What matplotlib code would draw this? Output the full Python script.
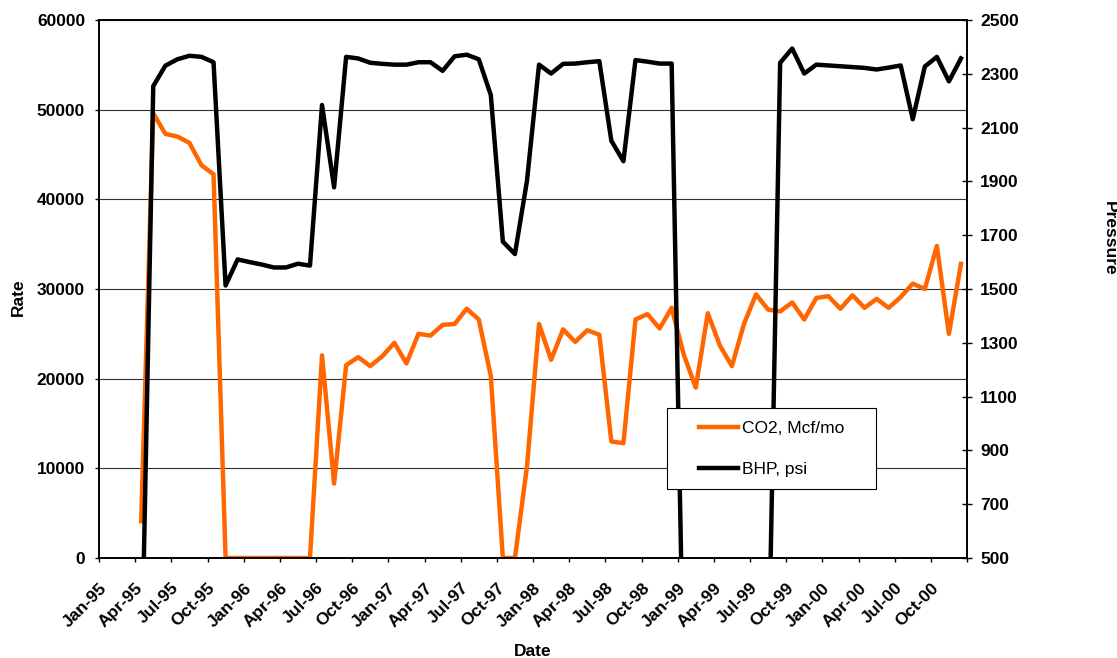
import numpy as np
import pandas as pd
import matplotlib
matplotlib.use('Agg')
import matplotlib.pyplot as plt
from matplotlib.legend_handler import HandlerLine2D

plt.rcParams['font.family'] = ['Liberation Sans', 'DejaVu Sans']

# monthly data, Apr-95 .. Dec-00
months = pd.date_range('1995-04-01', '2000-12-01', freq='MS')

co2 = [4100, 49600, 47300, 47000, 46300, 43800, 42800, 0, 0,
       0, 0, 0, 0, 0, 0, 22600, 8300, 21500, 22400, 21400, 22500,
       24000, 21700, 25000, 24800, 26000, 26100, 27800, 26600, 20300, 0, 0, 10200,
       26100, 22100, 25500, 24100, 25400, 24900, 13000, 12800, 26600, 27200, 25600, 27900,
       22700, 19000, 27300, 23700, 21400, 26100, 29400, 27700, 27500, 28500, 26600, 29000,
       29200, 27800, 29300, 27900, 28900, 27900, 29100, 30600, 30000, 34800, 25000, 32800]

bhp = [0, 2254, 2330, 2354, 2367, 2363, 2343, 1513, 1610,
       1600, 1591, 1580, 1580, 1594, 1587, 2184, 1878, 2363, 2357, 2341, 2337,
       2334, 2334, 2343, 2343, 2311, 2365, 2371, 2354, 2221, 1676, 1630, 1902,
       2334, 2301, 2337, 2338, 2343, 2347, 2051, 1975, 2351, 2345, 2338, 2338,
       0, 0, 0, 0, 0, 0, 0, 0, 2341, 2394, 2301, 2334,
       2331, 2328, 2325, 2322, 2316, 2323, 2331, 2131, 2327, 2363, 2272, 2357]

tick_labels = ['Jan-95', 'Apr-95', 'Jul-95', 'Oct-95', 'Jan-96', 'Apr-96', 'Jul-96', 'Oct-96',
               'Jan-97', 'Apr-97', 'Jul-97', 'Oct-97', 'Jan-98', 'Apr-98', 'Jul-98', 'Oct-98',
               'Jan-99', 'Apr-99', 'Jul-99', 'Oct-99', 'Jan-00', 'Apr-00', 'Jul-00', 'Oct-00']

# month index from Jan-95, points sit in the middle of each month
x = (months.year - 1995) * 12 + months.month - 1 + 0.5

fs = 12.5
W, H = 1117, 658
fig = plt.figure(figsize=(W / 100, H / 100), dpi=100)
ax = fig.add_axes([99 / W, 100 / H, 868 / W, 538 / H])

ax.plot(x, co2, color='#FF6600', lw=3.2, label='CO2, Mcf/mo')
ax.set_ylim(0, 60000)
ax.set_yticks(np.arange(0, 60001, 10000))
ax.set_xlim(0, 72)
ax.set_xticks(np.arange(0, 73, 3))
ax.set_xticklabels(tick_labels + [''])
for lab in ax.get_xticklabels():
    lab.set_rotation(45)
    lab.set_ha('right')
    lab.set_va('top')
    lab.set_rotation_mode('anchor')
ax.grid(axis='y', color='#303030', lw=0.8)
ax.set_axisbelow(True)
ax.tick_params(axis='y', direction='out', length=3, width=1, pad=7, labelsize=fs)
ax.tick_params(axis='x', direction='out', length=3, width=1, pad=13, labelsize=fs)
for lab in ax.get_xticklabels() + ax.get_yticklabels():
    lab.set_fontweight('bold')

ax2 = ax.twinx()
ax2.plot(x, bhp, color='black', lw=3.2, label='BHP, psi')
ax2.set_ylim(500, 2500)
ax2.set_yticks(np.arange(500, 2501, 200))
ax2.tick_params(axis='y', direction='inout', length=7, width=1, pad=6, labelsize=fs)
for lab in ax2.get_yticklabels():
    lab.set_fontweight('bold')

for a in (ax, ax2):
    for s in a.spines.values():
        s.set_linewidth(1.2)
        s.set_color('black')

h1, l1 = ax.get_legend_handles_labels()
h2, l2 = ax2.get_legend_handles_labels()
leg = ax2.legend(h1 + h2, l1 + l2, loc='lower left',
                 bbox_to_anchor=(667 / W, 1 - 489 / H, 209 / W, 81 / H),
                 bbox_transform=fig.transFigure, mode='expand', borderaxespad=0,
                 fancybox=False, edgecolor='black', framealpha=1,
                 prop={'size': 12.5}, borderpad=0.7, labelspacing=1.5,
                 handlelength=3.4, handletextpad=0.22,
                 handler_map={matplotlib.lines.Line2D: HandlerLine2D(xpad=1.15)})
leg.get_frame().set_linewidth(0.8)
leg.set_zorder(10)

fig.text(18 / W, 1 - 297 / H, 'Rate', rotation=90, ha='center', va='center',
         fontsize=fs, fontweight='bold')
fig.text(1109 / W, 1 - 238 / H, 'Pressure', rotation=270, ha='center', va='center',
         fontsize=fs, fontweight='bold')
fig.text(533 / W, 1 - 651 / H, 'Date', ha='center', va='center',
         fontsize=fs, fontweight='bold')

fig.savefig('out.png', dpi=100)
